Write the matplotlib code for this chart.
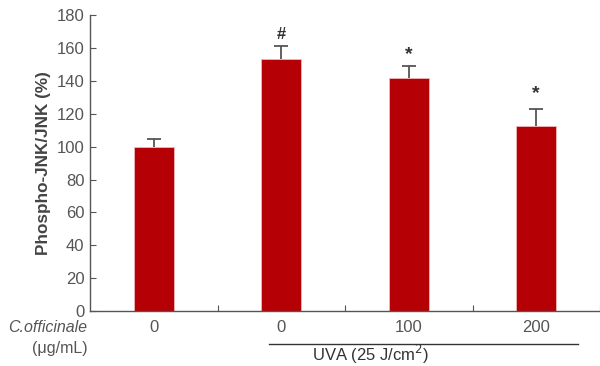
import matplotlib.pyplot as plt
import matplotlib.transforms as mtransforms

# data
groups = ["0", "0", "100", "200"]
values = [99.5, 153, 142, 112.5]
errors = [5, 8, 7, 10.5]
marks = ["", "#", "*", "*"]
mark_y = [0, 168, 156, 132]

plt.rcParams['font.family'] = ['Liberation Sans', 'DejaVu Sans']
grey = "#555555"

fig = plt.figure(figsize=(6, 3.66), dpi=100)
ax = fig.add_axes([0.15, 0.150, 0.85, 0.809])

x = list(range(len(values)))
ax.bar(x, values, width=0.31, color="#b50005", edgecolor="#f2b8ba", linewidth=0.6, zorder=2)

# error bars: only the upper part, drawn over the bars
tops = [v + e for v, e in zip(values, errors)]
ax.vlines(x, values, tops, color=grey, lw=1.3, zorder=3)
ax.hlines(tops, [xi - 0.055 for xi in x], [xi + 0.055 for xi in x], color=grey, lw=1.3, zorder=3)

for xi, m, my in zip(x, marks, mark_y):
    if m:
        ax.text(xi, my, m, ha="center", va="center", fontsize=14 if m == "*" else 12,
                color="#333333", fontweight="bold")

ax.set_xlim(-0.5, 3.5)
ax.set_ylim(0, 180)
ax.set_yticks(range(0, 181, 20))
ax.set_xticks([0.5, 1.5, 2.5, 3.5])
ax.set_xticklabels([])
ax.tick_params(direction="in", length=4, color=grey, labelsize=12, labelcolor=grey, pad=4)
for s in ["top", "right"]:
    ax.spines[s].set_visible(False)
for s in ["left", "bottom"]:
    ax.spines[s].set_color(grey)
    ax.spines[s].set_linewidth(1)

ax.set_ylabel("Phospho-JNK/JNK (%)", fontsize=12.3, color="#444444", fontweight="bold", labelpad=4)

trans = mtransforms.blended_transform_factory(ax.transData, ax.transAxes)
for xi, g in zip(x, groups):
    ax.text(xi, -0.055, g, transform=trans, ha="center", va="center",
            fontsize=12, color=grey, clip_on=False)

ax.text(-0.005, -0.055, "C.officinale", transform=ax.transAxes, ha="right", va="center",
        fontsize=11.5, color=grey, style="italic")
ax.text(-0.005, -0.127, "(μg/mL)", transform=ax.transAxes, ha="right", va="center",
        fontsize=11.5, color=grey)

ax.plot([0.9, 3.33], [-0.112, -0.112], transform=trans, color="#333333", lw=1, clip_on=False)
ax.text(1.7, -0.145, "UVA (25 J/cm$^2$)", transform=trans, ha="center", va="center",
        fontsize=12, color="#333333")

fig.savefig("out.png", dpi=100)
